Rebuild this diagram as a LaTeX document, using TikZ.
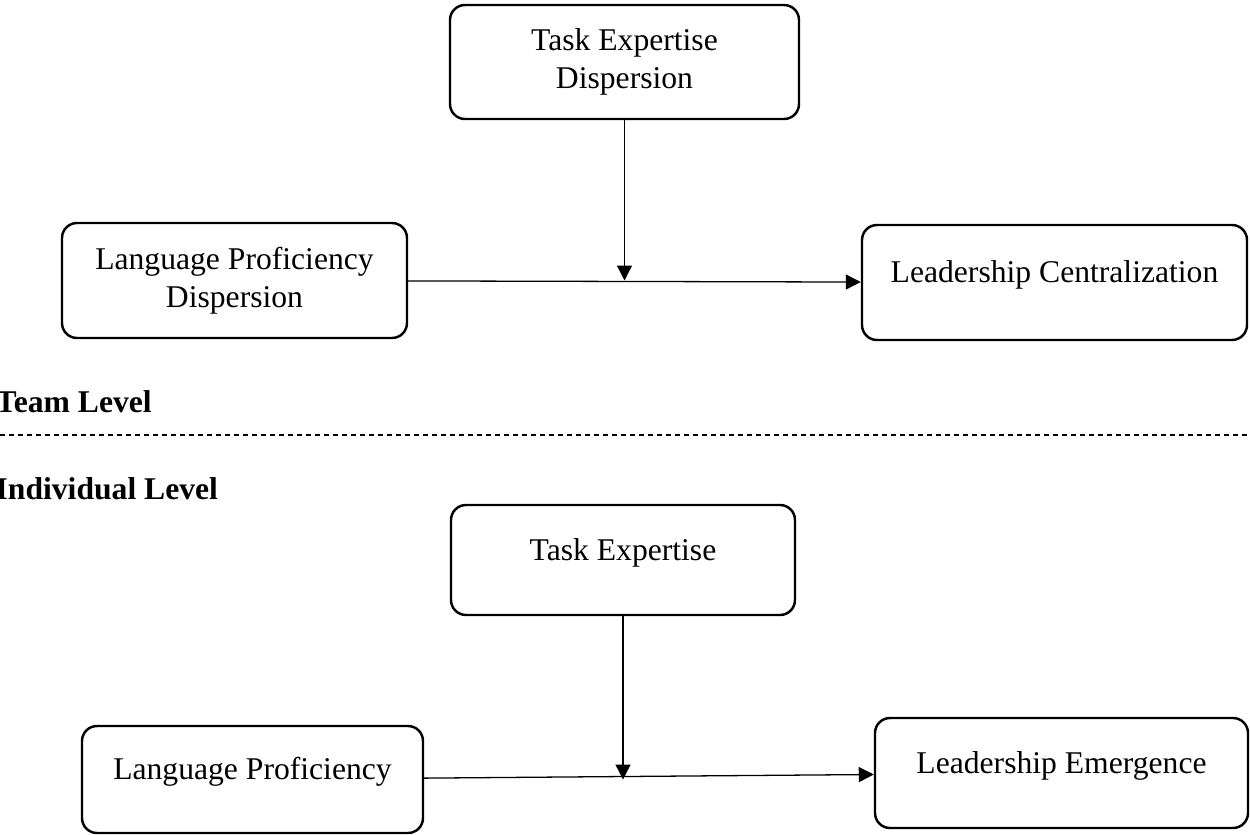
\documentclass[tikz,border=0pt]{standalone}
\usepackage{fontspec}
\setmainfont{Liberation Serif}
\usetikzlibrary{arrows.meta}

\begin{document}
\begin{tikzpicture}[>={Triangle[length=0.45cm, width=0.45cm]}, line width=1.1pt]
    \tikzstyle{format} = [draw, line width=2.1pt, rounded corners=0.45cm, align=center, inner sep=0pt, font=\fontsize{27}{32.4}\selectfont]
    \tikzstyle{oneline} = [text height=0.6cm, text depth=0.6cm]
    \tikzstyle{tier} = [anchor=base west, inner sep=0pt, font=\fontsize{27}{32.4}\selectfont\bfseries]

    \useasboundingbox (0,0) rectangle (37.5,-25.02);

    % team level
    \begin{scope}
        \path
          node[format, minimum width=10.47cm, minimum height=3.42cm] (ted) at (18.735,-1.86) {Task Expertise\\Dispersion}
          node[format, minimum width=10.35cm, minimum height=3.45cm] (lpd) at (7.035,-8.415) {Language Proficiency\\Dispersion}
          node[format, oneline, minimum width=11.55cm, minimum height=3.45cm] (lc) at (31.635,-8.475) {Leadership Centralization}

          (ted) edge[->] (ted.south |- lpd.east)
          (lpd) edge[->] (lc);
    \end{scope}

    \node[tier] (team) at (-0.15,-12.36) {Team Level};
    \draw[line width=1pt, dash pattern=on 0.15cm off 0.12cm] (0,-13.05) -- (37.5,-13.05);
    \node[tier] (indiv) at (-0.15,-14.97) {Individual Level};

    % individual level
    \begin{scope}
        \path
          node[format, oneline, minimum width=10.32cm, minimum height=3.3cm] (te) at (18.69,-16.8) {Task Expertise}
          node[format, oneline, minimum width=10.23cm, minimum height=3.21cm] (lp) at (7.575,-23.385) {Language Proficiency}
          node[format, oneline, minimum width=11.19cm, minimum height=3.3cm] (le) at (31.845,-23.19) {Leadership Emergence}

          (te) edge[->] (te.south |- lp.east)
          (lp) edge[->] (le);
    \end{scope}
\end{tikzpicture}
\end{document}
